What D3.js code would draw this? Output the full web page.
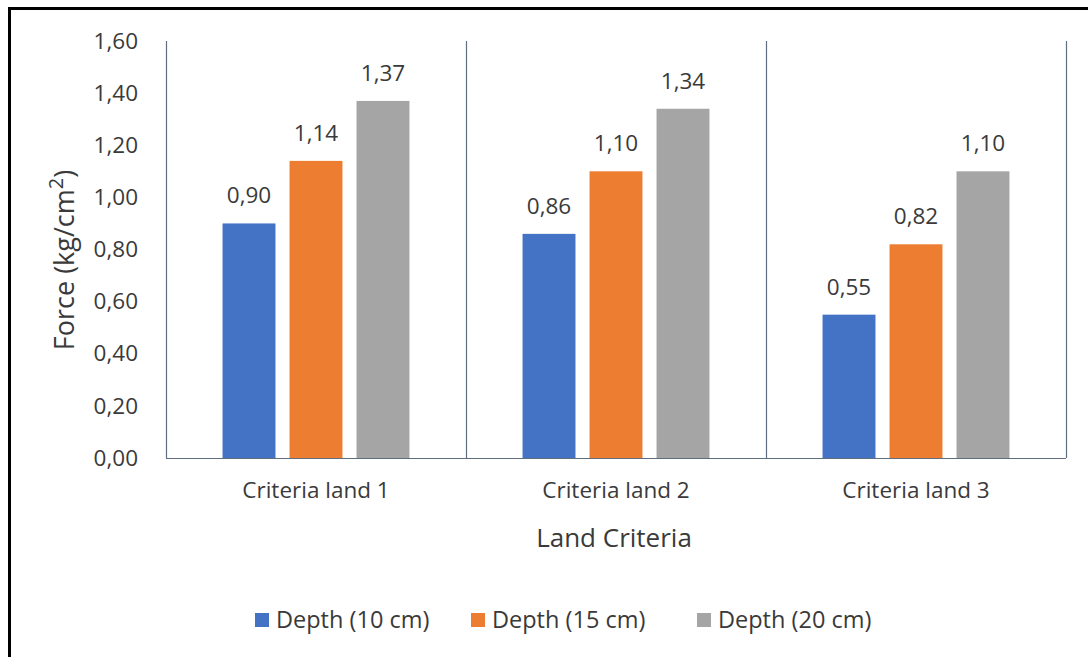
<!DOCTYPE html>
<html>
<head>
<meta charset="utf-8">
<script src="https://cdn.jsdelivr.net/npm/d3@7"></script>
<style>
  html, body { margin: 0; padding: 0; background: #fff; }
  svg { display: block; }
  text { font-family: "Open Sans", "Noto Sans", sans-serif; }
</style>
</head>
<body>
<svg id="chart" width="1088" height="657"></svg>
<script>
// Chart data
const categories = ["Criteria land 1", "Criteria land 2", "Criteria land 3"];
const seriesNames = ["Depth (10 cm)", "Depth (15 cm)", "Depth (20 cm)"];
const depth10 = [0.90, 0.86, 0.55];
const depth15 = [1.14, 1.10, 0.82];
const depth20 = [1.37, 1.34, 1.10];
const yTicks = [0, 0.2, 0.4, 0.6, 0.8, 1.0, 1.2, 1.4, 1.6];
const colors = ["#4472C4", "#ED7D31", "#A5A5A5"];

const series = [depth10, depth15, depth20];
const fmt = v => d3.format(".2f")(v).replace(".", ",");

const svg = d3.select("#chart");
const textColor = "#3a3a3a";
const labelSize = "22.5px";

// Frame around the figure (continues past the right and bottom edges)
svg.append("path")
  .attr("d", "M9.5,1100 L9.5,8.5 L1200,8.5")
  .attr("fill", "none")
  .attr("stroke", "#000")
  .attr("stroke-width", 3);

const plot = { left: 166, right: 1066, top: 41, bottom: 458 };

const x0 = d3.scaleBand().domain(categories).range([plot.left, plot.right]).padding(0);
const x1 = d3.scaleBand().domain(d3.range(3))
  .range([0, x0.bandwidth()]).paddingInner(0.21).paddingOuter(0.844);
const y = d3.scaleLinear().domain([0, 1.6]).range([plot.bottom, plot.top]);

const axisColor = "#5f6f80";

// Y axis labels
const yAxis = d3.axisLeft(y).tickValues(yTicks).tickFormat(fmt).tickSize(0).tickPadding(28);
const gy = svg.append("g").attr("transform", `translate(${plot.left},0)`).call(yAxis);
gy.select(".domain").remove();
gy.selectAll("text")
  .attr("fill", textColor)
  .style("font-size", labelSize);

// Category separators (vertical lines at band edges)
const edges = categories.map(c => x0(c)).concat([x0(categories[categories.length - 1]) + x0.bandwidth()]);
svg.append("g").selectAll("line").data(edges).join("line")
  .attr("x1", d => d + 0.5).attr("x2", d => d + 0.5)
  .attr("y1", plot.top).attr("y2", plot.bottom)
  .attr("stroke", axisColor).attr("stroke-width", 1.2);

// Baseline
svg.append("line")
  .attr("x1", plot.left).attr("x2", plot.right)
  .attr("y1", plot.bottom + 0.5).attr("y2", plot.bottom + 0.5)
  .attr("stroke", axisColor).attr("stroke-width", 1.2);

// Bars with value labels
const groups = svg.append("g").selectAll("g").data(categories).join("g")
  .attr("transform", d => `translate(${x0(d)},0)`);

groups.each(function(cat, ci) {
  const g = d3.select(this);
  series.forEach((vals, si) => {
    const v = vals[ci];
    g.append("rect")
      .attr("x", x1(si))
      .attr("width", x1.bandwidth())
      .attr("y", y(v))
      .attr("height", y(0) - y(v))
      .attr("fill", colors[si]);
    g.append("text")
      .attr("x", x1(si) + x1.bandwidth() / 2)
      .attr("y", y(v) - 20)
      .attr("text-anchor", "middle")
      .attr("fill", textColor)
      .style("font-size", labelSize)
      .text(fmt(v));
  });
});

// Category labels
const xAxis = d3.axisBottom(x0).tickSize(0).tickPadding(24);
const gx = svg.append("g").attr("transform", `translate(0,${plot.bottom})`).call(xAxis);
gx.select(".domain").remove();
gx.selectAll("text")
  .attr("fill", textColor)
  .style("font-size", labelSize);

// Axis titles
svg.append("text")
  .attr("x", 614).attr("y", 547)
  .attr("text-anchor", "middle")
  .attr("fill", textColor)
  .style("font-size", "26px")
  .text("Land Criteria");

const yTitle = svg.append("text")
  .attr("transform", "translate(74,260) rotate(-90)")
  .attr("text-anchor", "middle")
  .attr("fill", textColor)
  .style("font-size", "27px");
yTitle.append("tspan").text("Force (kg/cm");
yTitle.append("tspan").attr("dy", -11).style("font-size", "20px").text("2");
yTitle.append("tspan").attr("dy", 11).text(")");

// Legend
const legendX = [255, 471, 697];
const legend = svg.append("g").selectAll("g").data(seriesNames).join("g")
  .attr("transform", (d, i) => `translate(${legendX[i]},620)`);
legend.append("rect")
  .attr("x", 0).attr("y", -7).attr("width", 14).attr("height", 14)
  .attr("fill", (d, i) => colors[i]);
legend.append("text")
  .attr("x", 21).attr("y", 0).attr("dy", "0.35em")
  .attr("fill", textColor)
  .style("font-size", "23.5px")
  .text(d => d);
</script>
</body>
</html>
